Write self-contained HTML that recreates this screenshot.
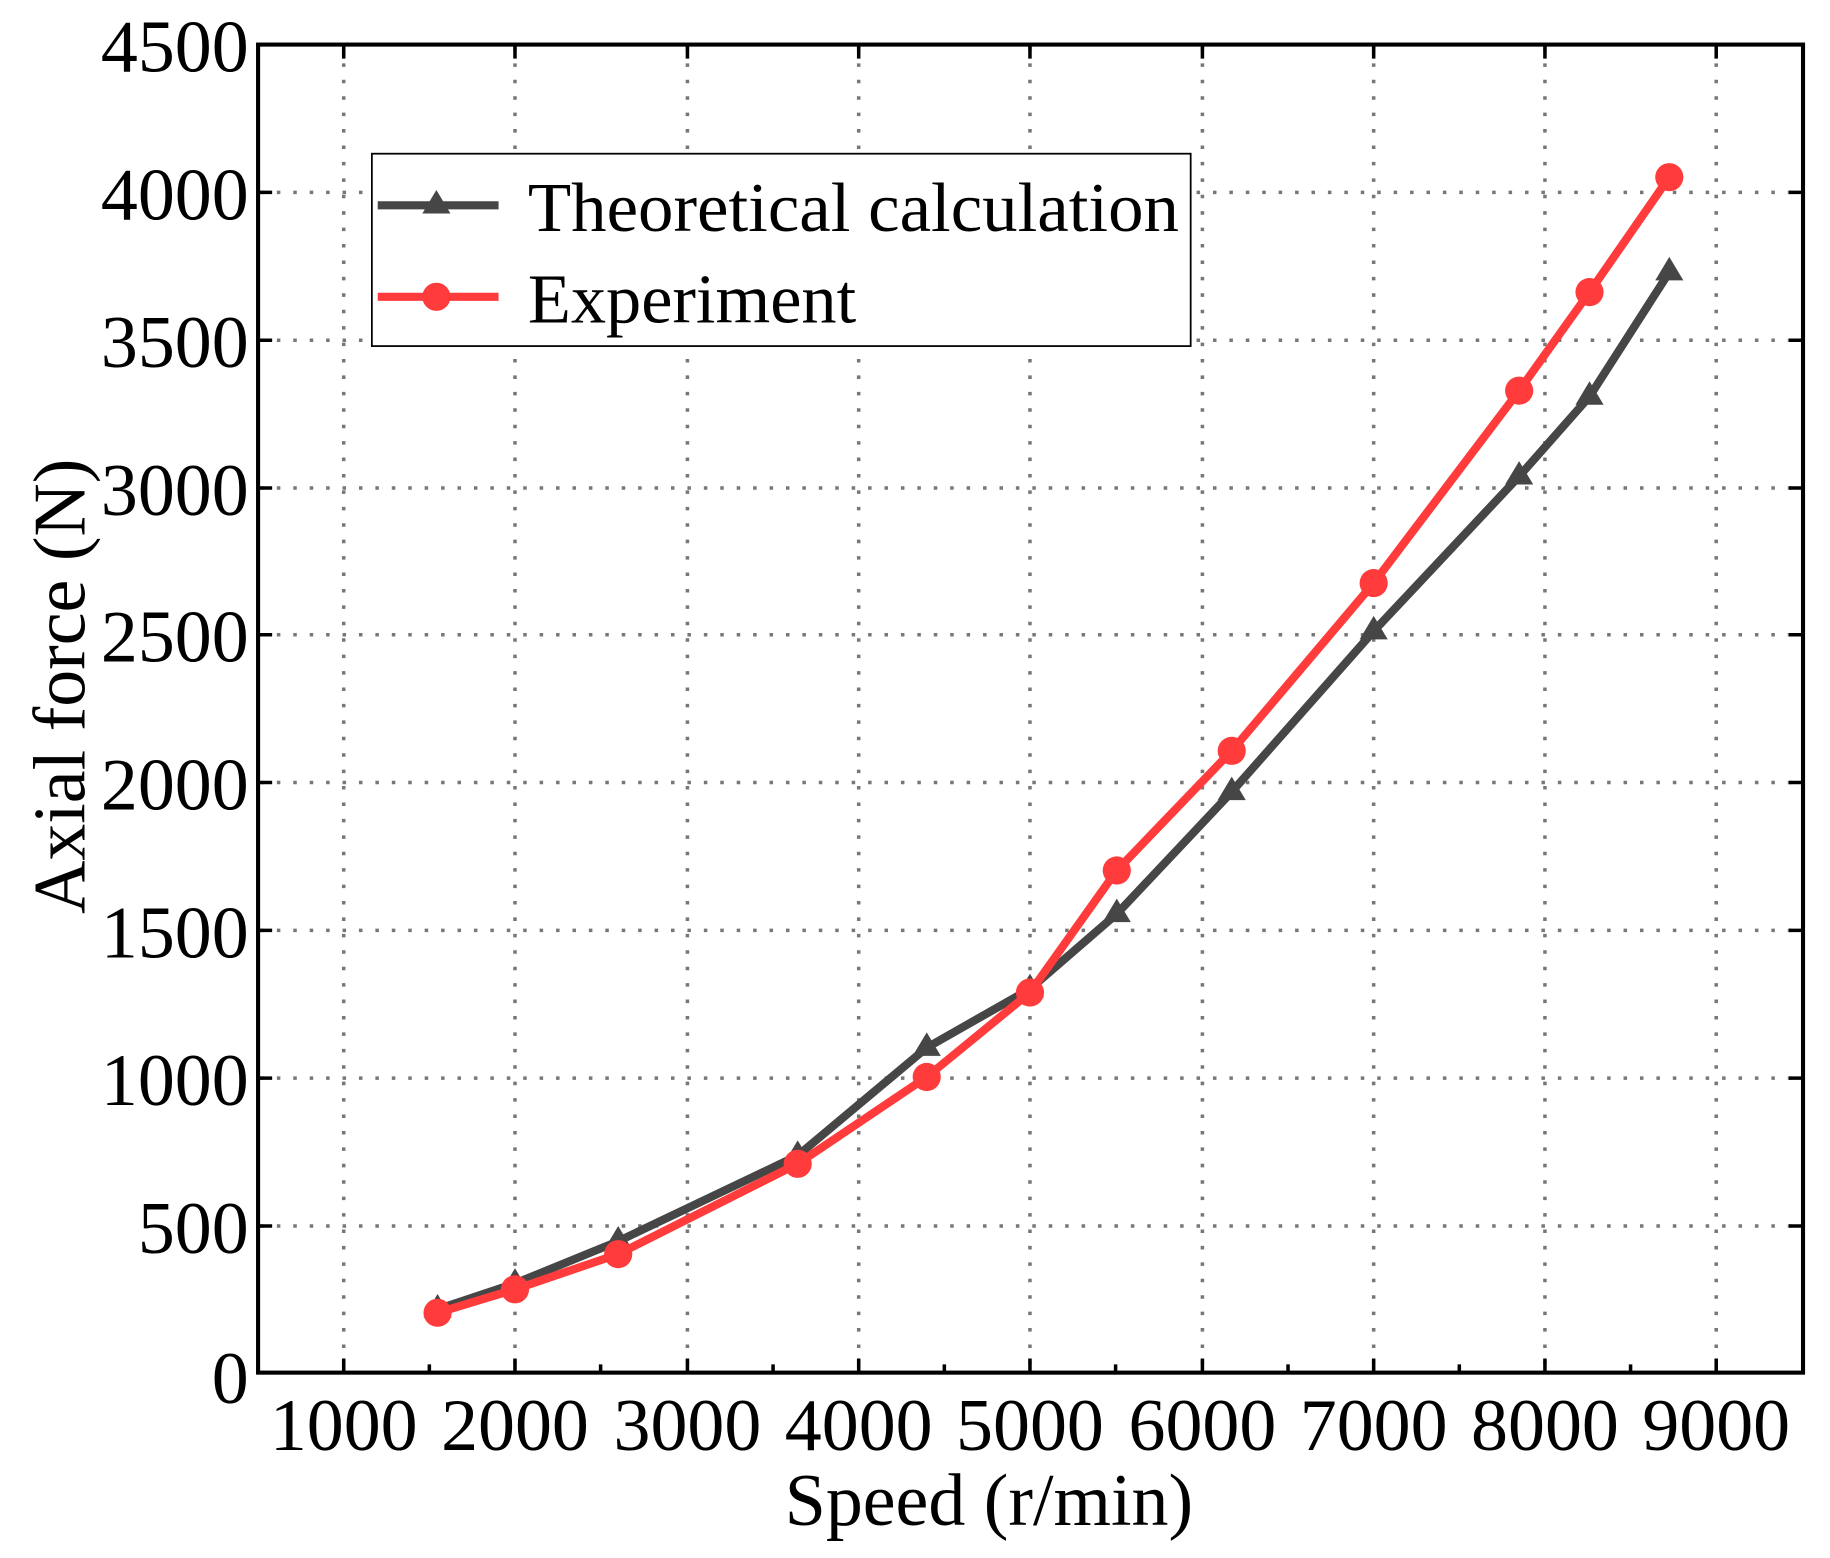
<!DOCTYPE html>
<html><head><style>html,body{margin:0;padding:0;background:#fff}svg{display:block}</style></head>
<body>
<svg width="1830" height="1558" viewBox="0 0 1560 1328" preserveAspectRatio="none" xmlns="http://www.w3.org/2000/svg" font-family="Liberation Serif, serif">
<g stroke="#777" stroke-width="3" stroke-dasharray="3,11">
<line x1="293" y1="40" x2="293" y2="1168"/><line x1="439" y1="40" x2="439" y2="1168"/><line x1="586" y1="40" x2="586" y2="1168"/><line x1="732" y1="40" x2="732" y2="1168"/><line x1="878" y1="40" x2="878" y2="1168"/><line x1="1025" y1="40" x2="1025" y2="1168"/><line x1="1171" y1="40" x2="1171" y2="1168"/><line x1="1317" y1="40" x2="1317" y2="1168"/><line x1="1463" y1="40" x2="1463" y2="1168"/>
<line x1="222" y1="164" x2="1535" y2="164"/><line x1="222" y1="290" x2="1535" y2="290"/><line x1="222" y1="416" x2="1535" y2="416"/><line x1="222" y1="541" x2="1535" y2="541"/><line x1="222" y1="667" x2="1535" y2="667"/><line x1="222" y1="793" x2="1535" y2="793"/><line x1="222" y1="919" x2="1535" y2="919"/><line x1="222" y1="1045" x2="1535" y2="1045"/>
</g>
<rect x="220" y="38" width="1317" height="1132" fill="none" stroke="#000" stroke-width="3.5"/>
<g stroke="#000" stroke-width="3">
<path d="M293 1170v-12M439 1170v-12M586 1170v-12M732 1170v-12M878 1170v-12M1025 1170v-12M1171 1170v-12M1317 1170v-12M1463 1170v-12"/>
<path d="M366 1170v-7M512 1170v-7M659 1170v-7M805 1170v-7M951 1170v-7M1098 1170v-7M1244 1170v-7M1390 1170v-7"/>
<path d="M220 164h12M220 290h12M220 416h12M220 541h12M220 667h12M220 793h12M220 919h12M220 1045h12"/>
<path d="M1537 164h-12M1537 290h-12M1537 416h-12M1537 541h-12M1537 667h-12M1537 793h-12M1537 919h-12M1537 1045h-12"/>
<path d="M293 38v12M439 38v12M586 38v12M732 38v12M878 38v12M1025 38v12M1171 38v12M1317 38v12M1463 38v12"/>
</g>
<polyline fill="none" stroke="#464646" stroke-width="7" stroke-linejoin="round" points="373,1116 439,1094 527,1058 680,985 790,893 878,843 952,779 1050,675 1171,538 1295,406 1355,338 1423,232"/>
<g fill="#464646">
<path d="M373 1103l12 20h-24z"/><path d="M439 1081l12 20h-24z"/><path d="M527 1045l12 20h-24z"/><path d="M680 972l12 20h-24z"/><path d="M790 880l12 20h-24z"/><path d="M878 830l12 20h-24z"/><path d="M952 766l12 20h-24z"/><path d="M1050 662l12 20h-24z"/><path d="M1171 525l12 20h-24z"/><path d="M1295 393l12 20h-24z"/><path d="M1355 325l12 20h-24z"/><path d="M1423 219l12 20h-24z"/>
</g>
<polyline fill="none" stroke="#ff3b3b" stroke-width="7" stroke-linejoin="round" points="373,1119 439,1099 527,1069 680,992 790,918 878,846 952,742 1050,640 1171,497 1295,333 1355,249 1423,151"/>
<g fill="#ff3b3b">
<circle cx="373" cy="1119" r="12"/><circle cx="439" cy="1099" r="12"/><circle cx="527" cy="1069" r="12"/><circle cx="680" cy="992" r="12"/><circle cx="790" cy="918" r="12"/><circle cx="878" cy="846" r="12"/><circle cx="952" cy="742" r="12"/><circle cx="1050" cy="640" r="12"/><circle cx="1171" cy="497" r="12"/><circle cx="1295" cy="333" r="12"/><circle cx="1355" cy="249" r="12"/><circle cx="1423" cy="151" r="12"/>
</g>
<rect x="317" y="131" width="698" height="164" fill="#fff" stroke="#000" stroke-width="1.5"/>
<line x1="322" y1="175" x2="425" y2="175" stroke="#464646" stroke-width="7"/><path d="M372 162l12 20h-24z" fill="#464646"/>
<line x1="322" y1="253" x2="425" y2="253" stroke="#ff3b3b" stroke-width="7"/><circle cx="372" cy="253" r="12" fill="#ff3b3b"/>
<g font-size="60" fill="#000">
<text x="450" y="197" textLength="555" lengthAdjust="spacingAndGlyphs">Theoretical calculation</text>
<text x="450" y="275">Experiment</text>
</g>
<g font-size="63" text-anchor="end" fill="#000">
<text x="212" y="61">4500</text><text x="212" y="187">4000</text><text x="212" y="313">3500</text><text x="212" y="439">3000</text><text x="212" y="564">2500</text><text x="212" y="690">2000</text><text x="212" y="816">1500</text><text x="212" y="942">1000</text><text x="212" y="1068">500</text><text x="212" y="1196">0</text>
</g>
<g font-size="63" text-anchor="middle" fill="#000">
<text x="293" y="1236">1000</text><text x="439" y="1236">2000</text><text x="586" y="1236">3000</text><text x="732" y="1236">4000</text><text x="878" y="1236">5000</text><text x="1025" y="1236">6000</text><text x="1171" y="1236">7000</text><text x="1317" y="1236">8000</text><text x="1463" y="1236">9000</text>
<text x="843" y="1300">Speed (r/min)</text>
<text transform="translate(72,585) rotate(-90)">Axial force (N)</text>
</g>
</svg>
</body></html>
